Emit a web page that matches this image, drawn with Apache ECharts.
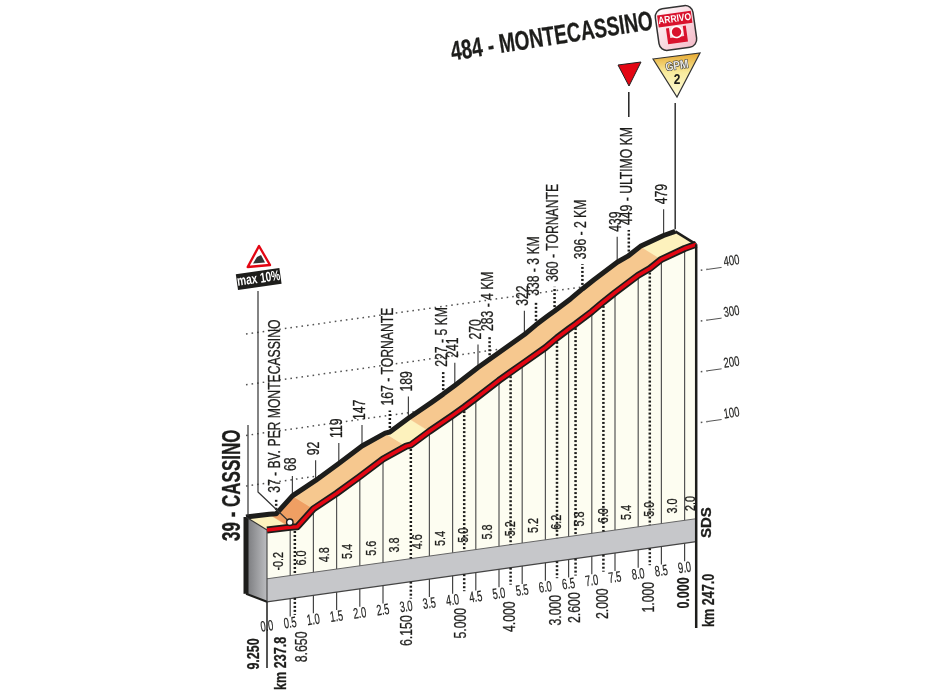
<!DOCTYPE html>
<html><head><meta charset="utf-8">
<style>html,body{margin:0;padding:0;background:#fff}#c{width:950px;height:700px}</style>
<script src="https://cdn.jsdelivr.net/npm/echarts@6/dist/echarts.min.js"></script>
</head><body><div id="c"></div>
<script>
// ---------- data ----------
const profileKm = [0,0.5,0.65,1,1.5,2,2.5,3,3.1,3.5,4,4.25,4.5,5,5.25,5.5,6,6.25,6.5,6.65,7,7.25,7.5,8,8.25,8.5,9,9.25];
const profileM  = [39,38,37,68,92,119,147,166,167,189,214,227,241,270,283,296,322,338,352,360,380,396,411,439,449,464,479,484];
const tickKm = [0,0.5,1,1.5,2,2.5,3,3.5,4,4.5,5,5.5,6,6.5,7,7.5,8,8.5,9];
const tickLabels = ['0.0','0.5','1.0','1.5','2.0','2.5','3.0','3.5','4.0','4.5','5.0','5.5','6.0','6.5','7.0','7.5','8.0','8.5','9.0'];
const gradeKm = [0.25,0.75,1.25,1.75,2.25,2.75,3.25,3.75,4.25,4.75,5.25,5.75,6.25,6.75,7.25,7.75,8.25,8.75,9.125];
const gradeLabels = ['-0.2','6.0','4.8','5.4','5.6','3.8','4.6','5.4','5.0','5.8','5.2','5.2','6.2','5.8','6.0','5.4','5.0','3.0','2.0'];
const spotKm = [0.65,1,1.5,2,2.5,3.1,3.5,4.25,4.5,5,5.25,6,6.25,6.65,7.25,8,8.25,9];
const spotLabels = ['37 - BV. PER MONTECASSINO','68','92','119','147','167 - TORNANTE','189','227 - 5 KM','241','270','283 - 4 KM','322','338 - 3 KM','360 - TORNANTE','396 - 2 KM','439','449 - ULTIMO KM','479'];
const markKm = [0.6,3.1,4.25,5.25,6.25,6.65,7.25,8.25];
const markLabels = ['8.650','6.150','5.000','4.000','3.000','2.600','2.000','1.000'];
const roadBandFrom = [0,0.5,1,3,3.5,8.5];
const roadBandTo   = [0.5,1,3,3.5,8.5,9.25];
const roadBandKind = ['light','dark','mid','light','mid','light'];
const scaleLevels = [100,200,300,400];
const scaleLabels = ['100','200','300','400'];

// ---------- drawing ----------
const SANS = '"Liberation Sans",Arial,sans-serif';
const INK = '#1d1d1b';
const X0 = 267, SHEAR = 0.14, DX = 21, DY = 13, BAND_T = 29, BAND_B = 52, KM_MAX = 9.25;
const kindColor = {light:'#fdf2bd', mid:'#f6c88f', dark:'#ef9f63'};

function P(api, km, h, depth){
  const p = api.coord([km, h]);
  const d = depth || 0;
  return [p[0] - d*DX, p[1] - SHEAR*(p[0]-X0) - d*DY];
}
function base(api, km, off){ const p = P(api, km, 0); return [p[0], p[1] + off]; }
function elevAt(km){
  for (let i=1;i<profileKm.length;i++) if (km<=profileKm[i]) {
    const t=(km-profileKm[i-1])/(profileKm[i]-profileKm[i-1]);
    return profileM[i-1]+t*(profileM[i]-profileM[i-1]);
  }
  return profileM[profileM.length-1];
}
function ridge(api, from, to, depth){
  const out=[P(api,from,elevAt(from),depth)];
  profileKm.forEach((k,i)=>{ if(k>from&&k<to) out.push(P(api,k,profileM[i],depth)); });
  out.push(P(api,to,elevAt(to),depth));
  return out;
}
function poly(points, style){ return {type:'polygon', shape:{points}, style}; }
function line(points, stroke, lineWidth, dash){
  return {type:'polyline', shape:{points}, style:{fill:null, stroke, lineWidth, lineDash:dash||null, lineJoin:'round'}};
}
function vtext(x,y,text,size,weight,sx,align){
  return {type:'text', x, y, rotation:Math.PI/2, scaleX:sx||0.76, z2:5,
    style:{x:0,y:0,text,align:align||'left',verticalAlign:'middle',fill:INK,stroke:INK,lineWidth:0.3,
      font:(weight||'normal')+' '+size+'px '+SANS}};
}
function stext(x,y,text,size,weight,sx){
  return {type:'text', x, y, rotation:SHEAR, scaleX:sx||0.62, z2:5,
    style:{x:0,y:0,text,align:'center',verticalAlign:'middle',fill:INK,stroke:INK,lineWidth:0.2,
      font:(weight||'normal')+' '+size+'px '+SANS}};
}
function layer(z, data, renderItem){
  return {type:'custom', coordinateSystem:'cartesian2d', z, silent:true, clip:false,
    animation:false, data:data.map((v,i)=>[v,i]), encode:{x:0,y:1}, renderItem};
}

const series = [
  // elevation scale on the back plane
  layer(1, scaleLevels, (p,api)=>{
    const i=api.value(1), h=scaleLevels[i];
    const a=P(api,0,h,1), b=P(api,9.95,h,1), c=P(api,10.25,h,1);
    return {type:'group',children:[
      line([a,b],'#555',1.5,[1.6,4]),
      line([b,c],'#555',1),
      stext(c[0]+10,c[1]-6,scaleLabels[i],14,'normal',0.68)
    ]};
  }),
  // wall + gradient band + end face
  layer(2,[0],(p,api)=>{
    const front=ridge(api,0,KM_MAX,0);
    const bt0=base(api,0,BAND_T), bt1=base(api,KM_MAX,BAND_T);
    const bb0=base(api,0,BAND_B), bb1=base(api,KM_MAX,BAND_B);
    const backTop=P(api,0,39,1);
    const faceBottom=[bb0[0]-DX,bb0[1]-8];
    return {type:'group',children:[
      poly(front.concat([bt1,bt0]),{fill:'#fdfdf1'}),
      poly([bt0,bt1,bb1,bb0],{fill:'#c6c7ca'}),
      line([bt0,bt1],'#666',1),
      line([bb0,bb1],'#444',1.2),
      poly([front[0],backTop,faceBottom,bb0],{fill:new echarts.graphic.LinearGradient(0,0,1,0,[{offset:0,color:'#77787b'},{offset:1,color:'#bcbdc0'}])}),
      line([backTop,faceBottom],INK,5),
      line([faceBottom,bb0],INK,2),
      line([front[0],bb0],'#333',1)
    ]};
  }),
  // kilometre ticks in wall and under the band
  layer(3,tickKm,(p,api)=>{
    const i=api.value(1), km=tickKm[i];
    const kids=[];
    if (km!==3 && km>0) {
      kids.push(line([P(api,km,elevAt(km),0),base(api,km,BAND_T)],'#555',1.2));
      const b=base(api,km,BAND_B);
      kids.push(line([b,[b[0],b[1]+18]],'#444',1.2));
    }
    const b=base(api,km,BAND_B);
    kids.push(stext(b[0],b[1]+25,tickLabels[i],15));
    return {type:'group',children:kids};
  }),
  // dotted km-to-go marks
  layer(3,markKm,(p,api)=>{
    const i=api.value(1), km=markKm[i];
    const t=P(api,km,elevAt(km),0), bt=base(api,km,BAND_T), bb=base(api,km,BAND_B);
    return {type:'group',children:[
      line([t,bt],INK,2.5,[2,2]),
      line([bb,[bb[0],bb[1]+17]],INK,2.5,[2,2]),
      vtext(bb[0]+(km<1?8:km<5?-3:0),bb[1]+49,markLabels[i],16,'normal',0.77,'center')
    ]};
  }),
  // gradient labels
  layer(4,gradeKm,(p,api)=>{
    const i=api.value(1), b=base(api,gradeKm[i],BAND_T);
    return vtext(b[0],b[1]-16,gradeLabels[i],15,'normal',0.72,'center');
  }),
  // spot heights on the back plane
  layer(3,spotKm,(p,api)=>{
    const i=api.value(1), km=spotKm[i], marked=markKm.indexOf(km)>=0||km===0.65;
    const t=P(api,km,elevAt(km),1);
    const len=km===0.65?16:19+km*0.8;
    const kids=[line([t,[t[0],t[1]-len]],marked?INK:'#444',marked?2.5:1.2,marked?[2,2]:null)];
    kids.push(vtext(t[0]-1,t[1]-len-5,spotLabels[i],16,'normal',0.76));
    return {type:'group',children:kids};
  }),
  // road surface coloured by bands
  layer(5,roadBandFrom,(p,api)=>{
    const i=api.value(1), a=roadBandFrom[i], b=roadBandTo[i];
    return poly(ridge(api,a,b,1).concat(ridge(api,a,b,0).reverse()),{fill:kindColor[roadBandKind[i]],stroke:kindColor[roadBandKind[i]],lineWidth:0.5});
  }),
  // ridge lines
  layer(6,[0],(p,api)=>{
    const back=ridge(api,0,KM_MAX,1), front=ridge(api,0,KM_MAX,0);
    return {type:'group',children:[
      line(back,INK,5),
      line([back[back.length-1],front[front.length-1]],INK,2.5),
      line([back[0],front[0]],'#333',1.2),
      line(front,INK,7),
      line(front,'#e30613',3.5)
    ]};
  }),
  // finish post, ultimo km post, max gradient leader
  layer(7,[0],(p,api)=>{
    const end=P(api,KM_MAX,484,1);
    const mk=P(api,8.25,449,1);
    const ring=P(api,0.65,37,0.35);
    return {type:'group',children:[
      line([[end[0],end[1]-2],[end[0],103]],'#333',1.5),
      line([[mk[0],92],[mk[0],117]],'#222',1.5),
      line([[258,291],[258,492],ring],'#333',1.2),
      {type:'circle',shape:{cx:ring[0],cy:ring[1],r:3.2},style:{fill:'#fff',stroke:INK,lineWidth:1.4}}
    ]};
  }),
  // place names and end lines at both sides
  layer(8,[0],(p,api)=>{
    const b1=base(api,KM_MAX,BAND_B), b0=base(api,0,BAND_B), f1=P(api,KM_MAX,484,0);
    const bs=base(api,9,BAND_B);
    return {type:'group',children:[
      line([f1,[b1[0],628]],INK,2.5),
      line([b0,[b0[0],668]],INK,1.5),
      line([[248,425],[248,516]],'#333',1.2),
      vtext(233,541,'39 - CASSINO',25,'bold',0.68),
      vtext(b0[0]-12,654,'9.250',16,'bold',0.78,'center'),
      vtext(b0[0]+14,690,'km 237.8',17,'bold',0.74),
      vtext(bs[0],593,'0.000',16,'bold',0.78,'center'),
      vtext(b1[0]+13,627,'km 247.0',17,'bold',0.74),
      vtext(b1[0]+11,538,'SDS',15,'bold',1)
    ]};
  })
];

const chart = echarts.init(document.getElementById('c'), null, {renderer:'canvas'});
const rot = SHEAR;
chart.setOption({
  animation:false,
  backgroundColor:'#fff',
  grid:{left:X0, top:42.8, width:429.2, height:507, containLabel:false},
  xAxis:{type:'value',min:0,max:KM_MAX,show:false},
  yAxis:{type:'value',min:0,max:1000,show:false},
  series,
  graphic:[
    // title
    {type:'text',x:552,y:37.5,rotation:0.155,scaleX:0.705,z:20,style:{text:'484 - MONTECASSINO',align:'center',verticalAlign:'middle',fill:INK,stroke:INK,lineWidth:0.3,font:'bold 27px '+SANS}},
    // arrivo badge
    {type:'group',x:676,y:28,rotation:rot,z:20,children:[
      {type:'rect',shape:{x:-19,y:-21,width:38,height:42,r:8},style:{fill:new echarts.graphic.LinearGradient(0,0,1,1,[{offset:0,color:'#fff'},{offset:1,color:'#f4b8c6'}]),stroke:'#333',lineWidth:1.5}},
      {type:'rect',shape:{x:-17,y:-15,width:34,height:12},style:{fill:'#d9122d'}},
      {type:'text',scaleX:0.85,y:-9,style:{x:0,y:0,text:'ARRIVO',align:'center',verticalAlign:'middle',fill:'#fff',font:'bold 10px '+SANS}},
      {type:'polygon',shape:{points:[[-10,-1],[-7,-1],[-7,9],[7,9],[7,-1],[10,-1],[10,15],[-10,15]]},style:{fill:'#d9122d'}},
      {type:'circle',shape:{cx:0,cy:4,r:5.5},style:{fill:'#d9122d',stroke:'#fff',lineWidth:1.5}}
    ]},
    // GPM triangle
    {type:'polygon',z:20,shape:{points:[[653,59],[700,53],[677,97]]},style:{fill:new echarts.graphic.LinearGradient(0,0,0,1,[{offset:0,color:'#e5a52c'},{offset:0.45,color:'#f9ec9e'},{offset:1,color:'#fdfadb'}]),stroke:'#333',lineWidth:1.2}},
    {type:'text',x:677,y:66,rotation:rot,scaleX:0.85,z:21,style:{text:'GPM',align:'center',verticalAlign:'middle',fill:'#e8e8e8',stroke:'#222',lineWidth:1,font:'bold 12px '+SANS}},
    {type:'text',x:677,y:80,z:21,scaleX:0.85,style:{text:'2',align:'center',verticalAlign:'middle',fill:INK,font:'bold 14px '+SANS}},
    // last km triangle
    {type:'polygon',z:20,shape:{points:[[618,65],[641,62],[629,86]]},style:{fill:'#e30613',stroke:'#222',lineWidth:1}},
    // max gradient sign
    {type:'polygon',z:20,shape:{points:[[247.7,267],[270,265],[259,246]]},style:{fill:'#fff',stroke:'#e30613',lineWidth:2.4,lineJoin:'round'}},
    {type:'polygon',z:21,shape:{points:[[253,263.5],[265,262.5],[261,255],[257,257]]},style:{fill:'#333'}},
    {type:'group',x:258.7,y:279,rotation:rot,z:20,children:[
      {type:'rect',shape:{x:-22,y:-8,width:44,height:16},style:{fill:INK}},
      {type:'text',scaleX:0.72,style:{x:0,y:0,text:'max 10%',align:'center',verticalAlign:'middle',fill:'#fff',font:'bold 14px '+SANS}}
    ]},
    // mean gradient tag
    {type:'group',x:483,y:562,rotation:rot,z:20,children:[
      {type:'rect',shape:{x:-14,y:-8,width:28,height:16,r:3},style:{fill:'#fff'}},
      {type:'text',scaleX:0.78,style:{x:0,y:0,text:'5.1%',align:'center',verticalAlign:'middle',fill:INK,font:'bold 14px '+SANS}}
    ]}
  ]
});
</script></body></html>
